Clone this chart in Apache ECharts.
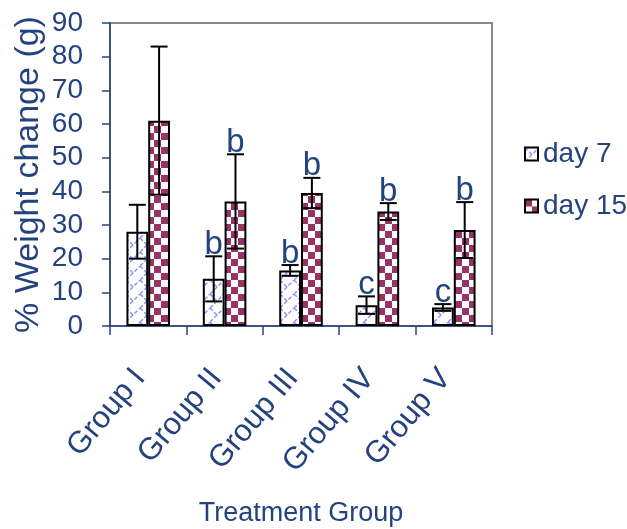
<!DOCTYPE html>
<html><head><meta charset="utf-8">
<script src="https://cdn.jsdelivr.net/npm/echarts@6/dist/echarts.min.js"></script>
<style>html,body{margin:0;padding:0;background:#fff}#c{width:627px;height:529px}</style>
</head><body><div id="c"></div>
<script>
const categories = ['Group I', 'Group II', 'Group III', 'Group IV', 'Group V'];
const seriesNames = ['day 7', 'day 15'];
const day7 = [28, 14, 16.5, 6.2, 5.5];
const day15 = [61, 37, 39.5, 34, 28.5];
const day7Err = [8, 6.7, 1.6, 2.6, 1];
const day15Err = [22, 14, 4.5, 2.5, 8.3];
const day7Letters = ['', 'b', 'b', 'c', 'c'];
const day15Letters = ['', 'b', 'b', 'b', 'b'];
const yTicks = [0, 10, 20, 30, 40, 50, 60, 70, 80, 90];

const NAVY = '#24427F';
const FONT = '"Liberation Sans", Arial, sans-serif';

function makeChecker() {
  const c = document.createElement('canvas'); c.width = 14; c.height = 14;
  const g = c.getContext('2d');
  g.fillStyle = '#fff'; g.fillRect(0, 0, 14, 14);
  g.fillStyle = '#993366'; g.fillRect(0, 0, 7, 7); g.fillRect(7, 7, 7, 7);
  return c;
}
function makeLattice() {
  const c = document.createElement('canvas'); c.width = 14; c.height = 14;
  const g = c.getContext('2d');
  g.fillStyle = '#fff'; g.fillRect(0, 0, 14, 14);
  g.strokeStyle = '#8C8CFF'; g.lineWidth = 1.4;
  g.setLineDash([4, 2]);
  g.beginPath(); g.moveTo(0, 14); g.lineTo(14, 0); g.stroke();
  g.beginPath(); g.moveTo(0, 0); g.lineTo(7, 7); g.stroke();
  return c;
}
const latticeFill = { image: makeLattice(), repeat: 'repeat' };
const checkerFill = { image: makeChecker(), repeat: 'repeat' };

const chart = echarts.init(document.getElementById('c'), null, { renderer: 'canvas' });

function errSeries(vals, errs, letters, sign) {
  const data = vals.map((v, i) => [i, v, errs[i]]);
  return {
    type: 'custom', silent: true, z: 5,
    data: data,
    encode: { x: 0, y: 1 },
    renderItem: function (params, api) {
      const i = api.value(0), v = api.value(1), e = api.value(2);
      const letter = letters[i];
      const band = api.size([1, 0])[0];
      const cx = api.coord([i, v])[0] + sign * band * 0.1425;
      const yt = api.coord([i, v + e])[1];
      const yb = api.coord([i, v - e])[1];
      const cap = 8.5;
      const st = { stroke: '#000', lineWidth: 2 };
      const children = [
        { type: 'line', shape: { x1: cx, y1: yt, x2: cx, y2: yb }, style: st },
        { type: 'line', shape: { x1: cx - cap, y1: yt, x2: cx + cap, y2: yt }, style: st },
        { type: 'line', shape: { x1: cx - cap, y1: yb, x2: cx + cap, y2: yb }, style: st }
      ];
      if (letter) {
        children.push({ type: 'text', style: { text: letter, x: cx, y: yt + 5, align: 'center', verticalAlign: 'bottom', fill: NAVY, font: '33px ' + FONT } });
      }
      return { type: 'group', children: children };
    }
  };
}

chart.setOption({
  animation: false,
  grid: { left: 110, right: 135, top: 23, bottom: 203, containLabel: false, outerBoundsMode: 'none',
          show: true, borderColor: '#888', borderWidth: 2, backgroundColor: 'transparent' },
  legend: {
    orient: 'vertical', left: 519, top: 135, itemGap: 24,
    itemWidth: 13, itemHeight: 13, icon: 'rect',
    textStyle: { color: NAVY, fontSize: 28, fontFamily: FONT },
    data: seriesNames
  },
  xAxis: {
    type: 'category', data: categories,
    axisLine: { lineStyle: { color: NAVY, width: 1.5 } },
    axisTick: { show: true, length: 9, lineStyle: { color: NAVY, width: 1.5 } },
    axisLabel: { rotate: 50, color: NAVY, fontSize: 31, fontFamily: FONT, margin: 37, padding: [0, 13, 0, 0], interval: 0 },
    name: 'Treatment Group', nameLocation: 'middle', nameGap: 174, nameMoveOverlap: false,
    nameTextStyle: { color: NAVY, fontSize: 27, fontFamily: FONT }
  },
  yAxis: {
    type: 'value', min: yTicks[0], max: yTicks[yTicks.length - 1], interval: 10,
    splitLine: { show: false },
    axisLine: { show: true, lineStyle: { color: NAVY, width: 1.5 } },
    axisTick: { show: true, length: 8, lineStyle: { color: NAVY, width: 1.5 } },
    axisLabel: { color: NAVY, fontSize: 28, fontFamily: FONT, margin: 27, formatter: v => String(v) },
    name: '% Weight change (g)', nameLocation: 'middle', nameGap: 64, nameMoveOverlap: false,
    nameTextStyle: { color: NAVY, fontSize: 34, fontFamily: FONT }
  },
  series: [
    { name: seriesNames[0], type: 'bar', data: day7, barGap: '0%', barCategoryGap: '43%',
      itemStyle: { color: latticeFill, borderColor: '#000', borderWidth: 2 } },
    { name: seriesNames[1], type: 'bar', data: day15, barGap: '0%', barCategoryGap: '43%',
      itemStyle: { color: checkerFill, borderColor: '#000', borderWidth: 2 } },
    errSeries(day7, day7Err, day7Letters, -1),
    errSeries(day15, day15Err, day15Letters, 1)
  ]
});
</script></body></html>
